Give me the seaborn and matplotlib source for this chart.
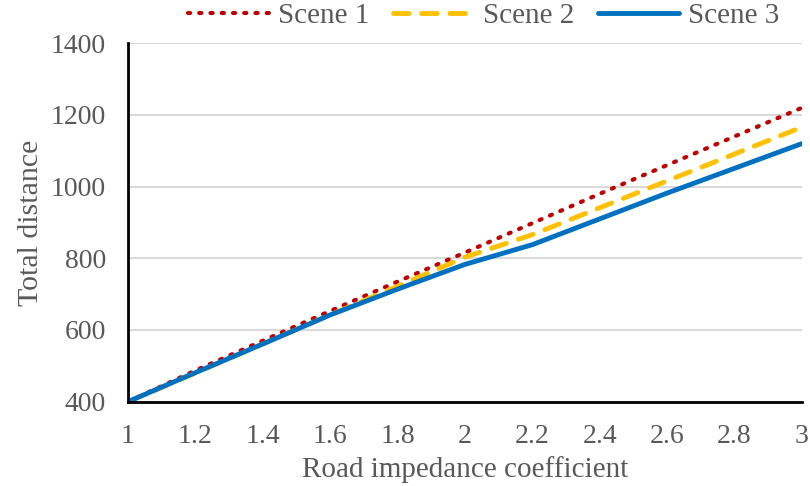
import numpy as np
import pandas as pd
import matplotlib
matplotlib.use("Agg")
import matplotlib.pyplot as plt
import seaborn as sns

# Data
coef = [1.0, 1.2, 1.4, 1.6, 1.8, 2.0, 2.2, 2.4, 2.6, 2.8, 3.0]
scene1 = [400, 487, 570, 653, 735, 816, 898, 980, 1060, 1140, 1220]
scene2 = [400, 480, 561, 642, 722, 803, 866, 941, 1016, 1091, 1166]
scene3 = [400, 481, 561, 642, 714, 783, 838, 910, 982, 1051, 1120]
labels = ["Scene 1", "Scene 2", "Scene 3"]

sns.set_style("white")
plt.rcParams['font.family'] = ['Liberation Serif', 'DejaVu Serif']
text_col = "#595959"

fig = plt.figure(figsize=(8.1, 4.86), dpi=100)
ax = fig.add_axes([0.158, 0.1735, 0.832, 0.7375])

# Plot each scene
sns.lineplot(x=coef, y=scene1, ax=ax, color="#C00000", lw=3, label=labels[0])
ax.lines[-1].set_linestyle((0, (0.5, 2.2)))
ax.lines[-1].set_dash_capstyle("round")
sns.lineplot(x=coef, y=scene2, ax=ax, color="#FFC000", lw=3.5, label=labels[1])
ax.lines[-1].set_linestyle((0, (3.2, 2.6)))
ax.lines[-1].set_dash_capstyle("round")
sns.lineplot(x=coef, y=scene3, ax=ax, color="#0070C0", lw=3.5, label=labels[2])

ax.set_xlim(1, 3)
ax.set_ylim(400, 1400)
ax.set_xticks(np.arange(1, 3.01, 0.2))
ax.set_xticklabels(["1", "1.2", "1.4", "1.6", "1.8", "2", "2.2", "2.4", "2.6", "2.8", "3"])
ax.set_yticks(range(400, 1401, 200))

ax.yaxis.grid(True, color="#D9D9D9", lw=1.5)
ax.set_axisbelow(True)
for s in ["top", "right"]:
    ax.spines[s].set_visible(False)
for s in ["left", "bottom"]:
    ax.spines[s].set_color("black")
    ax.spines[s].set_linewidth(2)
ax.tick_params(axis="both", direction="out", length=7, width=2, color="black",
               labelsize=20, labelcolor=text_col, pad=9)

ax.set_xlabel("Road impedance coefficient", fontsize=21, color=text_col, labelpad=5)
ax.set_ylabel("Total distance", fontsize=21.5, color=text_col, labelpad=5)

leg = ax.legend(loc="center", bbox_to_anchor=(0.597, 0.968),
                bbox_transform=fig.transFigure, ncol=3, frameon=False,
                fontsize=21, handlelength=2.8, handletextpad=0.3,
                columnspacing=0.8, borderaxespad=0)
for t in leg.get_texts():
    t.set_color(text_col)

plt.savefig("out.png", dpi=100)
